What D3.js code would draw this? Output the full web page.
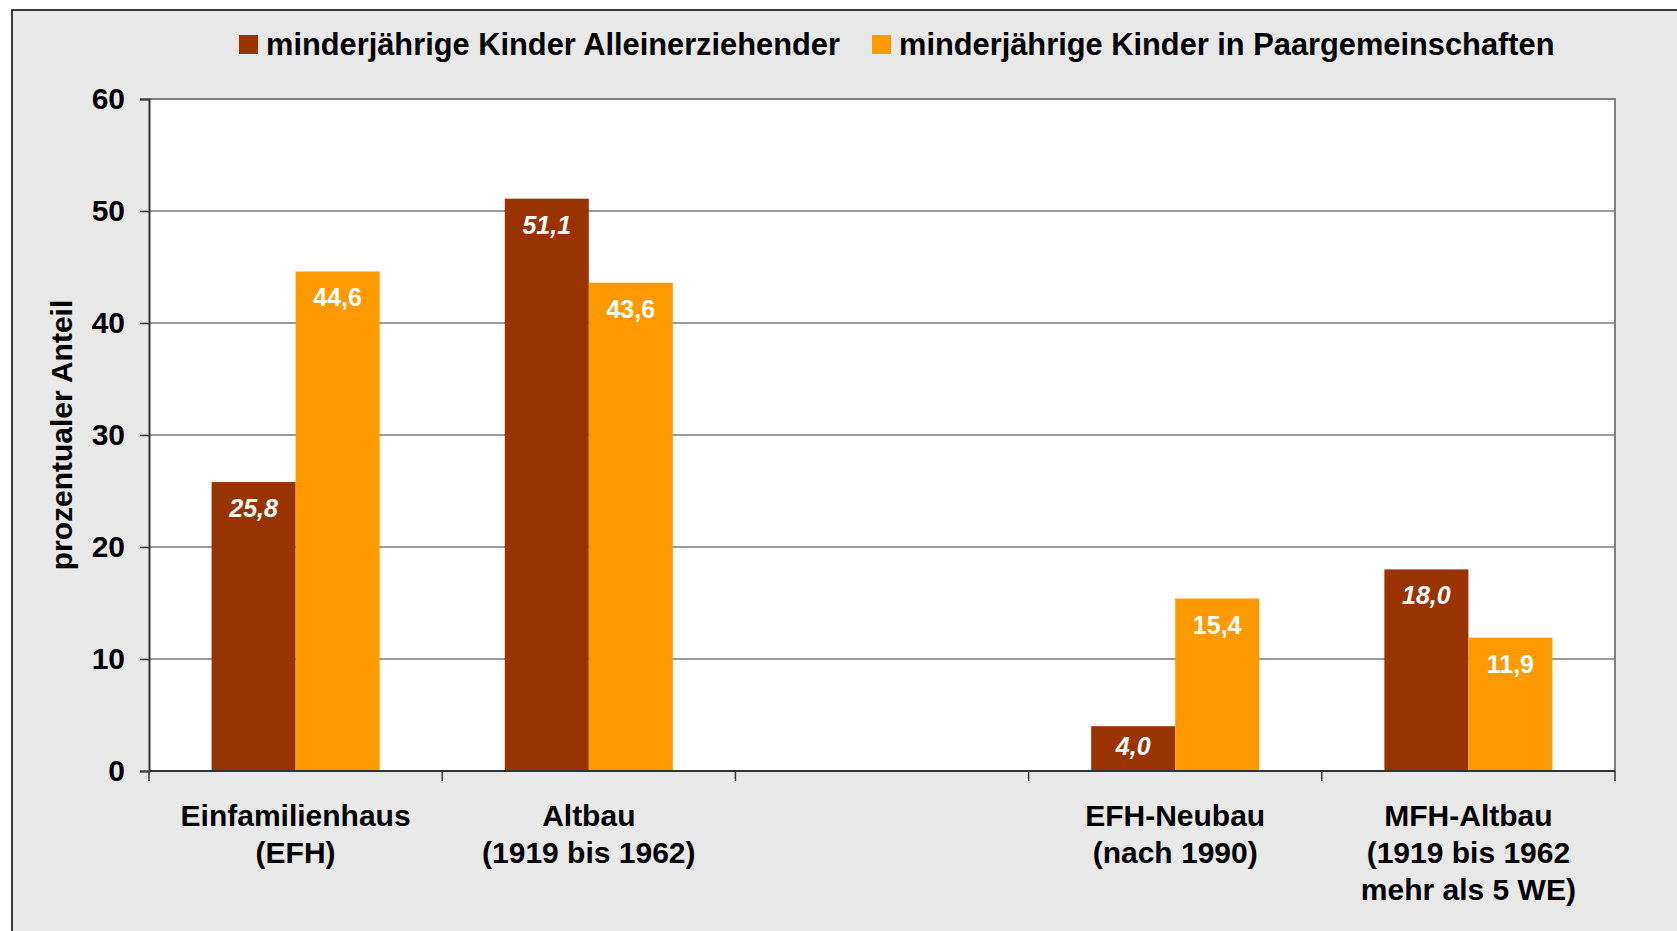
<!DOCTYPE html>
<html><head><meta charset="utf-8">
<script src="https://cdn.jsdelivr.net/npm/d3@7"></script>
<style>
html,body{margin:0;padding:0;background:#fff;overflow:hidden}
svg{display:block}
text{font-family:"Liberation Sans",Arial,sans-serif;font-weight:bold}
</style></head>
<body>
<svg id="c" width="1677" height="931"></svg>
<script>
// ---- data ----
const categories = [
  ["Einfamilienhaus","(EFH)"],
  ["Altbau","(1919 bis 1962)"],
  [""],
  ["EFH-Neubau","(nach 1990)"],
  ["MFH-Altbau","(1919 bis 1962","mehr als 5 WE)"]
];
const seriesNames = ["minderjährige Kinder Alleinerziehender","minderjährige Kinder in Paargemeinschaften"];
const alleinerziehend = [25.8, 51.1, null, 4.0, 18.0];
const paargemeinschaft = [44.6, 43.6, null, 15.4, 11.9];
const yTicks = [0,10,20,30,40,50,60];
const yTitle = "prozentualer Anteil";
const colors = ["#993300","#FF9900"];

// ---- layout ----
const svg = d3.select("#c");
const L = 149, R = 1615, T = 99, B = 771;

svg.append("rect").attr("x",12).attr("y",10).attr("width",1700).attr("height",960)
  .attr("fill","#e8e8e8").attr("stroke","#000").attr("stroke-width",1.5);

const catIdx = categories.map((d,i)=>i);
const x0 = d3.scaleBand().domain(catIdx).range([L,R]).paddingInner(0).paddingOuter(0);
const x1 = d3.scaleBand().domain([0,1]).range([0,x0.bandwidth()]).paddingInner(0).paddingOuter(0.745);
const y = d3.scaleLinear().domain([0,60]).range([B,T]);

// plot area
svg.append("rect").attr("x",L).attr("y",T).attr("width",R-L).attr("height",B-T).attr("fill","#fff");

// gridlines
svg.append("g").selectAll("line").data(yTicks.filter(t=>t>0 && t<60)).join("line")
  .attr("x1",L).attr("x2",R).attr("y1",d=>y(d)).attr("y2",d=>y(d))
  .attr("stroke","#9a9a9a").attr("stroke-width",2);

// plot border top/right
svg.append("path").attr("d",`M${L},${y(60)}H${R}V${B}`).attr("fill","none")
  .attr("stroke","#808080").attr("stroke-width",2);

// bars
const series = [alleinerziehend, paargemeinschaft];
const fmt = v => d3.format(".1f")(v).replace(".",",");
series.forEach((vals,si)=>{
  const g = svg.append("g");
  const data = vals.map((v,i)=>({v,i})).filter(d=>d.v!=null);
  g.selectAll("rect").data(data).join("rect")
    .attr("x",d=>x0(d.i)+x1(si)).attr("width",x1.bandwidth())
    .attr("y",d=>y(d.v)).attr("height",d=>y(0)-y(d.v))
    .attr("fill",colors[si]);
  g.selectAll("text").data(data).join("text")
    .attr("x",d=>x0(d.i)+x1(si)+x1.bandwidth()/2)
    .attr("y",d=>Math.min(y(d.v)+26,(y(d.v)+y(0))/2-3))
    .attr("dy","0.36em")
    .attr("text-anchor","middle").attr("fill","#fff")
    .attr("font-size",25).attr("font-style",si===0?"italic":"normal")
    .text(d=>fmt(d.v));
});

// y axis
const yAxis = svg.append("g").attr("transform",`translate(${L},0)`)
  .call(d3.axisLeft(y).tickValues(yTicks).tickSize(9).tickPadding(15).tickFormat(d3.format("d")));
yAxis.select(".domain").attr("stroke","#333").attr("stroke-width",2);
yAxis.selectAll(".tick line").attr("stroke","#333").attr("stroke-width",1.5);
yAxis.selectAll(".tick text").attr("font-size",30).attr("fill","#000")
  .attr("font-family","\"Liberation Sans\",Arial,sans-serif").attr("font-weight","bold");

// x axis
const xAxis = svg.append("g").attr("transform",`translate(0,${B})`);
xAxis.append("line").attr("x1",L).attr("x2",R).attr("stroke","#333").attr("stroke-width",2);
const bounds = catIdx.map(i=>x0(i)).concat([R]);
xAxis.selectAll("line.t").data(bounds).join("line").attr("class","t")
  .attr("x1",d=>d).attr("x2",d=>d).attr("y1",0).attr("y2",10)
  .attr("stroke","#333").attr("stroke-width",1.5);

const xl = svg.append("g");
categories.forEach((lines,i)=>{
  const t = xl.append("text").attr("text-anchor","middle").attr("font-size",30).attr("fill","#000");
  lines.forEach((ln,k)=>{
    t.append("tspan").attr("x",x0(i)+x0.bandwidth()/2).attr("y",826+k*37).text(ln);
  });
});

// y title
svg.append("text").attr("transform","translate(72,435) rotate(-90)")
  .attr("text-anchor","middle").attr("font-size",30).attr("fill","#000").text(yTitle);

// legend
const legX = [239, 872];
seriesNames.forEach((n,i)=>{
  svg.append("rect").attr("x",legX[i]).attr("y",35).attr("width",19).attr("height",19).attr("fill",colors[i]);
  svg.append("text").attr("x",legX[i]+27).attr("y",44).attr("dy","0.36em")
    .attr("font-size",30.8).attr("fill","#000").text(n);
});
</script>
</body></html>
